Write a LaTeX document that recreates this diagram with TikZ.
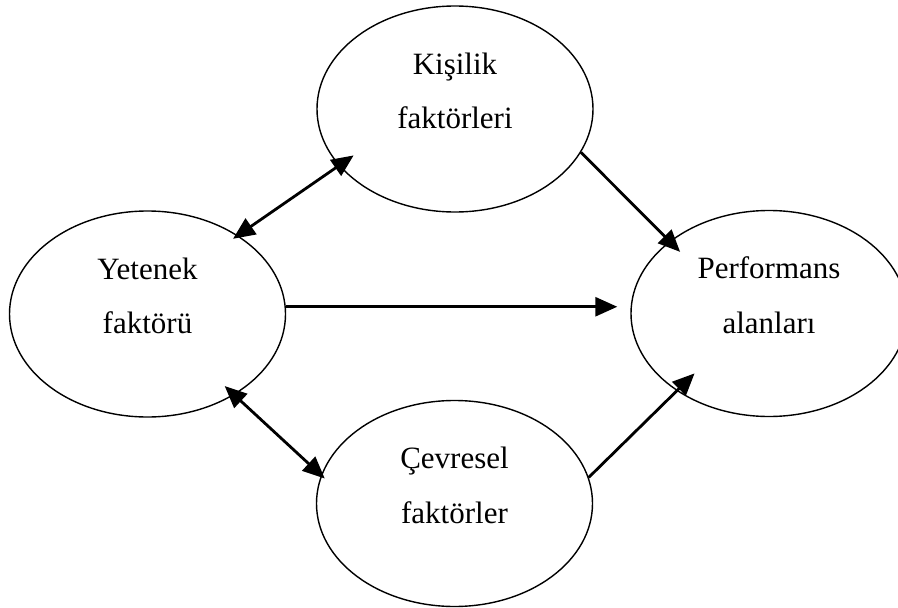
\documentclass[tikz,border=0pt]{standalone}
\usepackage{fontspec}
\setmainfont{Liberation Serif}
\usetikzlibrary{shapes.geometric,arrows.meta}

\begin{document}
\begin{tikzpicture}[x=1pt,y=-1pt,
    factor/.style ={ellipse, draw, line width=1.4pt, inner sep=0pt,
                    minimum width=276pt, minimum height=206pt},
    factortext/.style ={align=center, anchor=base, font=\fontsize{31}{54.5}\selectfont},
    link/.style ={line width=2.8pt, -{Triangle[length=22pt,width=19pt]}},
    twolink/.style ={line width=2.8pt,
                     {Triangle[length=22pt,width=19pt]}-{Triangle[length=22pt,width=19pt]}}]
   \useasboundingbox (0,0) rectangle (898,608);
   \clip (0,0) rectangle (898,608);

   \node[factor] (yet) at (147.5,314)  {};
   \node[factor] (kis) at (455,109)  {};
   \node[factor] (per) at (769,313.5)  {};
   \node[factor] (cev) at (454.5,503.5)  {};

   \node[factortext] (yettext) at ([yshift=-19.5pt]yet.center) {Yetenek\\faktörü};
   \node[factortext] (kistext) at ([yshift=-19.5pt]kis.center) {Kişilik\\faktörleri};
   \node[factortext] (pertext) at ([yshift=-19.5pt]per.center) {Performans\\alanları};
   \node[factortext] (cevtext) at ([yshift=-19.5pt]cev.center) {Çevresel\\faktörler};

   \draw[twolink, shorten <=-6pt, shorten >=-18pt] (yet.41) to (kis.206);
   \draw[twolink, shorten <=-13pt, shorten >=-5pt] (yet.-43) to (cev.168.8);
   \draw[link, shorten >=13pt] (yet.3) to (yet.3 -| per.west);
   \draw[link, shorten >=-15pt] (kis.-19) to (per.144);
   \draw[link, shorten >=-25pt] (cev.11.2) to (per.220);
 \end{tikzpicture}
\end{document}
